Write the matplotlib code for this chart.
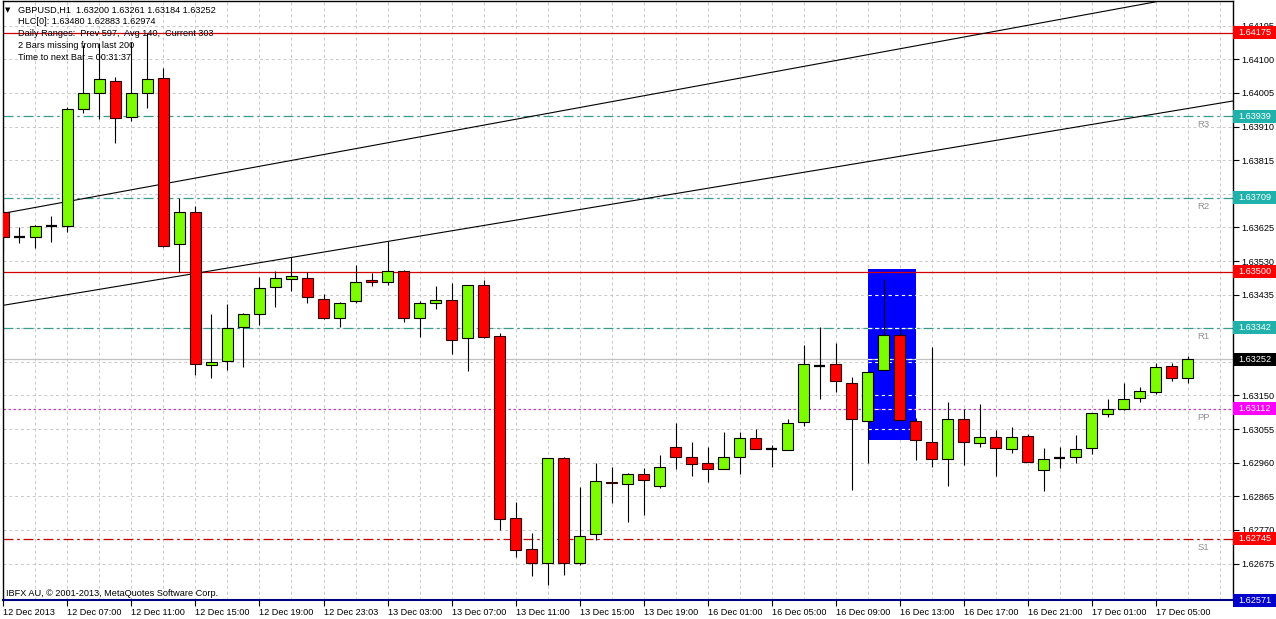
import matplotlib
matplotlib.use('Agg')
import matplotlib.pyplot as plt
from matplotlib.patches import Rectangle
from matplotlib.ticker import MultipleLocator
from matplotlib.transforms import blended_transform_factory
import numpy as np

plt.rcParams['font.family'] = ['Liberation Sans', 'DejaVu Sans']
FS = 6.6

# GBPUSD H1 candles, 12 Dec 03:00 .. 17 Dec 07:00
opens = [1.63669,1.63598,1.63598,1.63629,1.63629,1.63960,1.64005,1.64039,1.63937,1.64005,
         1.64048,1.63578,1.63669,1.63237,1.63248,1.63344,1.63381,1.63457,1.63480,1.63482,
         1.63423,1.63369,1.63417,1.63477,1.63471,1.63502,1.63369,1.63412,1.63420,1.63313,
         1.63463,1.63318,1.62804,1.62717,1.62677,1.62974,1.62677,1.62759,1.62906,1.62900,
         1.62928,1.62895,1.63005,1.62977,1.62960,1.62943,1.62977,1.63030,1.62999,1.62996,
         1.63075,1.63234,1.63239,1.63186,1.63078,1.63222,1.63321,1.63078,1.63019,1.62971,
         1.63084,1.63016,1.63033,1.62999,1.63036,1.62940,1.62974,1.62977,1.63002,1.63098,
         1.63112,1.63143,1.63160,1.63234,1.63200]
highs = [1.63691,1.63626,1.63632,1.63658,1.63966,1.64141,1.64147,1.64050,1.64149,1.64175,
         1.64076,1.63708,1.63686,1.63381,1.63409,1.63383,1.63485,1.63502,1.63542,1.63499,
         1.63437,1.63415,1.63519,1.63497,1.63587,1.63505,1.63417,1.63460,1.63468,1.63463,
         1.63477,1.63327,1.62849,1.62762,1.62974,1.62977,1.62892,1.62960,1.62948,1.62931,
         1.62945,1.62982,1.63073,1.63019,1.63005,1.63047,1.63047,1.63056,1.63010,1.63084,
         1.63293,1.63344,1.63299,1.63203,1.63217,1.63480,1.63338,1.63087,1.63287,1.63132,
         1.63112,1.63126,1.63053,1.63061,1.63041,1.63002,1.63005,1.63039,1.63101,1.63140,
         1.63186,1.63174,1.63242,1.63242,1.63261]
lows = [1.63556,1.63581,1.63567,1.63584,1.63612,1.63949,1.63932,1.63864,1.63926,1.63963,
        1.63570,1.63499,1.63208,1.63200,1.63222,1.63231,1.63350,1.63400,1.63446,1.63412,
        1.63367,1.63344,1.63412,1.63460,1.63463,1.63358,1.63316,1.63395,1.63268,1.63220,
        1.63313,1.62770,1.62694,1.62640,1.62615,1.62643,1.62671,1.62742,1.62847,1.62793,
        1.62813,1.62889,1.62943,1.62923,1.62906,1.62943,1.62928,1.62999,1.62948,1.62996,
        1.63064,1.63140,1.63160,1.62883,1.62960,1.63222,1.63081,1.62968,1.62948,1.62895,
        1.62954,1.63005,1.62923,1.62988,1.62962,1.62880,1.62945,1.62960,1.62985,1.63090,
        1.63109,1.63132,1.63155,1.63191,1.63184]
closes = [1.63598,1.63598,1.63629,1.63629,1.63960,1.64005,1.64045,1.63935,1.64005,1.64045,
          1.63573,1.63669,1.63239,1.63245,1.63341,1.63381,1.63454,1.63482,1.63488,1.63429,
          1.63369,1.63412,1.63471,1.63471,1.63502,1.63369,1.63412,1.63420,1.63307,1.63463,
          1.63316,1.62801,1.62714,1.62677,1.62974,1.62677,1.62753,1.62909,1.62903,1.62928,
          1.62911,1.62948,1.62977,1.62957,1.62943,1.62977,1.63030,1.62999,1.62999,1.63073,
          1.63239,1.63234,1.63191,1.63084,1.63217,1.63321,1.63081,1.63025,1.62971,1.63084,
          1.63019,1.63033,1.63002,1.63033,1.62962,1.62971,1.62974,1.62999,1.63101,1.63112,
          1.63140,1.63163,1.63231,1.63200,1.63252]

time_labels = ["12 Dec 2013", "12 Dec 07:00", "12 Dec 11:00", "12 Dec 15:00", "12 Dec 19:00",
               "12 Dec 23:03", "13 Dec 03:00", "13 Dec 07:00", "13 Dec 11:00", "13 Dec 15:00",
               "13 Dec 19:00", "16 Dec 01:00", "16 Dec 05:00", "16 Dec 09:00", "16 Dec 13:00",
               "16 Dec 17:00", "16 Dec 21:00", "17 Dec 01:00", "17 Dec 05:00"]
price_ticks = [1.64195, 1.64100, 1.64005, 1.63910, 1.63815, 1.63720, 1.63625, 1.63530, 1.63435,
               1.63340, 1.63245, 1.63150, 1.63055, 1.62960, 1.62865, 1.62770, 1.62675]
hidden_ticks = [1.63720, 1.63340, 1.63245]  # covered by the price boxes

# pivot levels
pivot_names = ["R3", "R2", "R1", "PP", "S1"]
pivot_values = [1.63939, 1.63709, 1.63342, 1.63112, 1.62745]
resist_lines = [1.64175, 1.63500]
bid = 1.63252
bottom_line = 1.62571

# trend lines (two anchor points each: bar, price)
upper_trend = [(0, 1.63665), (70, 1.64246)]
lower_trend = [(0, 1.63405), (70, 1.63931)]

# rectangle: bar from, bar to, price low, price high
rect_bars = (54, 57)
rect_prices = (1.63025, 1.63507)

o = np.array(opens); h = np.array(highs); l = np.array(lows); c = np.array(closes)
x = np.arange(len(o))

fig = plt.figure(figsize=(12.76, 6.19), dpi=100)
ax = fig.add_axes([3/1276, 19/619, 1230/1276, 599/619])
ax.set_xlim(-0.03, 76.84)
ax.set_ylim(1.62572, 1.64265)

# grid
ax.set_yticks(price_ticks)
ax.set_yticklabels(["" if v in hidden_ticks else f"{v:.5f}" for v in price_ticks])
ax.set_xticks(x[::4])
ax.set_xticklabels(time_labels, ha='left')
ax.xaxis.set_minor_locator(MultipleLocator(2))
ax.grid(True, which='both', axis='x', color='#c8c8c8', ls=(0, (3, 3)), lw=0.7)
ax.grid(True, which='major', axis='y', color='#c8c8c8', ls=(0, (3, 3)), lw=0.7)
ax.set_axisbelow(True)

ax.yaxis.tick_right()
ax.tick_params(axis='y', which='major', length=4, pad=2, labelsize=FS)
ax.tick_params(axis='x', which='major', length=4, pad=2, labelsize=FS)
ax.tick_params(axis='x', which='minor', length=0)

for s in ['top', 'left', 'right']:
    ax.spines[s].set_color('black')
    ax.spines[s].set_linewidth(1)
ax.spines['bottom'].set_color('#000080')
ax.spines['bottom'].set_linewidth(1.5)

# rectangle
ax.add_patch(Rectangle((rect_bars[0], rect_prices[0]), rect_bars[1] - rect_bars[0],
                       rect_prices[1] - rect_prices[0], fc='#0000ff', ec='none', zorder=1.2))

# level lines
for v in resist_lines:
    ax.axhline(v, color='#d40000', lw=0.9, zorder=2)
for name, v in zip(pivot_names, pivot_values):
    if name == "PP":
        ax.axhline(v, color='#c040c0', lw=0.9, ls=(0, (2, 2)), zorder=2)
    elif name == "S1":
        ax.axhline(v, color='#c00000', lw=0.9, ls=(0, (8, 3, 2, 3)), zorder=2)
    else:
        ax.axhline(v, color='#3a9a8c', lw=0.9, ls=(0, (8, 3, 2, 3)), zorder=2)
    ax.text(75.0, v - 0.00024, name, color='#909090', fontsize=6.8, ha='center', va='center')
ax.axhline(bid, color='#c0c0c0', lw=0.9, zorder=2)
ax.axhline(bottom_line, color='#000080', lw=2, zorder=2)

# grid/levels show white over the rectangle
inside = [v for v in price_ticks + pivot_values + [bid] if rect_prices[0] < v < rect_prices[1]]
ax.hlines(inside, rect_bars[0], rect_bars[1], colors='white', linestyles=(0, (3, 3)), lw=0.8, zorder=2.2)

# trend lines
ax.axline(upper_trend[0], upper_trend[1], color='black', lw=0.8, zorder=2.5)
ax.axline(lower_trend[0], lower_trend[1], color='black', lw=0.8, zorder=2.5)

# candles
up = c > o
dn = c < o
dj = c == o
ax.vlines(x, l, h, color='black', lw=0.8, zorder=3)
ax.bar(x[up], (c - o)[up], bottom=o[up], width=0.65, color='#7cfc00', edgecolor='black', lw=0.8, zorder=4)
ax.bar(x[dn], (o - c)[dn], bottom=c[dn], width=0.65, color='#ff0000', edgecolor='#300000', lw=0.8, zorder=4)
ax.hlines(o[dj], x[dj] - 0.33, x[dj] + 0.33, color='black', lw=1.6, zorder=4)

# price boxes on the right axis
bt = blended_transform_factory(ax.transAxes, ax.transData)
boxes = [(1.64175, '#ff0000'), (1.63939, '#20b2aa'), (1.63709, '#20b2aa'), (1.63500, '#ff0000'),
         (1.63342, '#20b2aa'), (bid, '#000000'), (1.63112, '#ff00ff'), (1.62745, '#ff0000'),
         (bottom_line, '#0000cd')]
bw = 43 / 1230
bh = 6.5 / 35380
for v, col in boxes:
    ax.add_patch(Rectangle((1.0, v - bh), bw, 2 * bh, transform=bt, fc=col, ec='none',
                           clip_on=False, zorder=5))
    ax.text(1.0 + bw / 2, v, f"{v:.5f}", transform=bt, color='white', fontsize=FS,
            ha='center', va='center', clip_on=False, zorder=6)

# info texts
def ftxt(px, py, s, **kw):
    fig.text(px / 1276, 1 - py / 619, s, fontsize=FS, va='center', **kw)

fig.text(5 / 1276, 1 - 10 / 619, "\u25bc", fontsize=5, va='center', family=['DejaVu Sans'])
ftxt(18, 10, "GBPUSD,H1  1.63200 1.63261 1.63184 1.63252")
ftxt(18, 22, "HLC[0]: 1.63480 1.62883 1.62974")
ftxt(18, 34, "Daily Ranges:  Prev 597,  Avg 140,  Current 303")
ftxt(18, 46, "2 Bars missing from last 200")
ftxt(18, 58, "Time to next Bar = 00:31:37")
ftxt(6, 593, "IBFX AU, \u00a9 2001-2013, MetaQuotes Software Corp.")

fig.savefig('out.png', dpi=100)
